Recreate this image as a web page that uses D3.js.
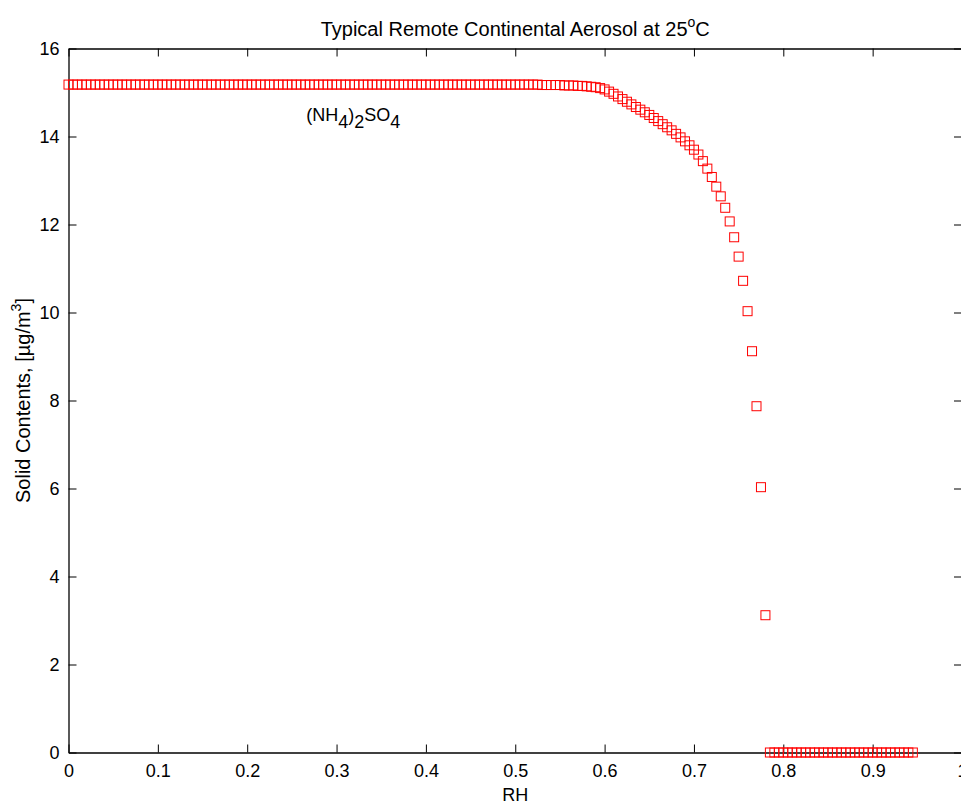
<!DOCTYPE html>
<html>
<head>
<meta charset="utf-8">
<script src="https://cdn.jsdelivr.net/npm/d3@7/dist/d3.min.js"></script>
<style>
html,body{margin:0;padding:0;background:#fff;overflow:hidden;}
svg{display:block;font-family:"Liberation Sans",Arial,Helvetica,sans-serif;}
</style>
</head>
<body>
<svg id="chart" width="961" height="806"></svg>
<script>
// ---- data ----
const titleText = "Typical Remote Continental Aerosol at 25";
const xLabel = "RH";
const yLabel = "Solid Contents, [\u00b5g/m";
const xTicks = [0, 0.1, 0.2, 0.3, 0.4, 0.5, 0.6, 0.7, 0.8, 0.9, 1];
const xTickLabels = ["0", "0.1", "0.2", "0.3", "0.4", "0.5", "0.6", "0.7", "0.8", "0.9", "1"];
const yTicks = [0, 2, 4, 6, 8, 10, 12, 14, 16];
const yTickLabels = ["0", "2", "4", "6", "8", "10", "12", "14", "16"];
// RH sampled every 0.005 from 0 to 0.945
const rh = d3.range(190).map(i => +(i * 0.005).toFixed(3));
const solid = [
  15.18,15.18,15.18,15.18,15.18,15.18,15.18,15.18,15.18,15.18,
  15.18,15.18,15.18,15.18,15.18,15.18,15.18,15.18,15.18,15.18,
  15.18,15.18,15.18,15.18,15.18,15.18,15.18,15.18,15.18,15.18,
  15.18,15.18,15.18,15.18,15.18,15.18,15.18,15.18,15.18,15.18,
  15.18,15.18,15.18,15.18,15.18,15.18,15.18,15.18,15.18,15.18,
  15.18,15.18,15.18,15.18,15.18,15.18,15.18,15.18,15.18,15.18,
  15.18,15.18,15.18,15.18,15.18,15.18,15.18,15.18,15.18,15.18,
  15.18,15.18,15.18,15.18,15.18,15.18,15.18,15.18,15.18,15.18,
  15.18,15.18,15.18,15.18,15.18,15.18,15.18,15.18,15.18,15.18,
  15.18,15.18,15.18,15.18,15.18,15.18,15.18,15.18,15.18,15.18,
  15.18,
  15.18,15.18,15.18,15.18,15.18,15.17,15.17,15.17,15.17,15.17,
  15.16,15.16,15.16,15.15,15.15,15.14,15.13,15.12,15.10,
  15.07,15.02,14.97,14.91,14.85,14.79,14.73,14.67,14.61,14.55,
  14.49,14.42,14.35,14.28,14.21,14.14,14.06,13.98,13.89,13.80,
  13.70,13.59,13.44,13.27,13.08,12.86,12.64,12.38,12.07,11.71,
  11.27,10.72,10.03,9.12,7.87,6.03,3.12,
  0,0,0,0,0,0,0,0,0,0,
  0,0,0,0,0,0,0,0,0,0,
  0,0,0,0,0,0,0,0,0,0,
  0,0,0
];

(function () {
const points = rh.map((r, i) => ({x: r, y: solid[i]}));

// ---- layout ----
const svg = d3.select("#chart");
const mL = 68.5, mR = 962, mT = 48.5, mB = 752.5;
const x = d3.scaleLinear().domain([0, 1]).range([mL, mR]);
const y = d3.scaleLinear().domain([0, 16]).range([mB, mT]);
const fsTick = 18;
const fs = 20;
const tickLen = 8;

const axisG = svg.append("g");
axisG.append("g").attr("transform", `translate(0,${mB})`)
  .call(d3.axisBottom(x).tickValues(xTicks).tickFormat((d, i) => xTickLabels[i]).tickSizeInner(-tickLen).tickSizeOuter(0).tickPadding(12));
axisG.append("g").attr("transform", `translate(0,${mT})`)
  .call(d3.axisTop(x).tickValues(xTicks).tickFormat("").tickSizeInner(-tickLen).tickSizeOuter(0));
axisG.append("g").attr("transform", `translate(${mL},0)`)
  .call(d3.axisLeft(y).tickValues(yTicks).tickFormat((d, i) => yTickLabels[i]).tickSizeInner(-tickLen).tickSizeOuter(0).tickPadding(9));
axisG.append("g").attr("transform", `translate(${mR},0)`)
  .call(d3.axisRight(y).tickValues(yTicks).tickFormat("").tickSizeInner(-tickLen).tickSizeOuter(0));
axisG.selectAll(".domain").attr("stroke", "#000").attr("stroke-width", 1.3);
axisG.selectAll(".tick line").attr("stroke", "#000").attr("stroke-width", 1);
axisG.selectAll(".tick text").attr("font-size", fsTick).attr("fill", "#000")
  .attr("font-family", "Liberation Sans, Arial, sans-serif");

// markers
const ms = 9;
svg.append("g").selectAll("rect").data(points).join("rect")
  .attr("x", d => x(d.x) - ms / 2)
  .attr("y", d => y(d.y) - ms / 2)
  .attr("width", ms).attr("height", ms)
  .attr("fill", "none").attr("stroke", "#ff0000").attr("stroke-width", 1);

// title
const t = svg.append("text").attr("x", (mL + mR) / 2).attr("y", 36)
  .attr("text-anchor", "middle").attr("font-size", fs);
t.append("tspan").text(titleText);
t.append("tspan").attr("dy", -9).attr("font-size", 14).text("o");
t.append("tspan").attr("dy", 9).text("C");

// x label
svg.append("text").attr("x", (mL + mR) / 2).attr("y", 801)
  .attr("text-anchor", "middle").attr("font-size", fsTick).text(xLabel);

// y label
const yl = svg.append("text").attr("transform", `translate(30,${(mT + mB) / 2}) rotate(-90)`)
  .attr("text-anchor", "middle").attr("font-size", fs);
yl.append("tspan").text(yLabel);
yl.append("tspan").attr("dy", -9).attr("font-size", 14).text("3");
yl.append("tspan").attr("dy", 9).text("]");

// annotation
const ann = svg.append("text").attr("x", x(0.266)).attr("y", y(14.35)).attr("font-size", fsTick);
ann.append("tspan").text("(NH");
ann.append("tspan").attr("dy", 7).text("4");
ann.append("tspan").attr("dy", -7).text(")");
ann.append("tspan").attr("dy", 7).text("2");
ann.append("tspan").attr("dy", -7).text("SO");
ann.append("tspan").attr("dy", 7).text("4");
})();
</script>
</body>
</html>
